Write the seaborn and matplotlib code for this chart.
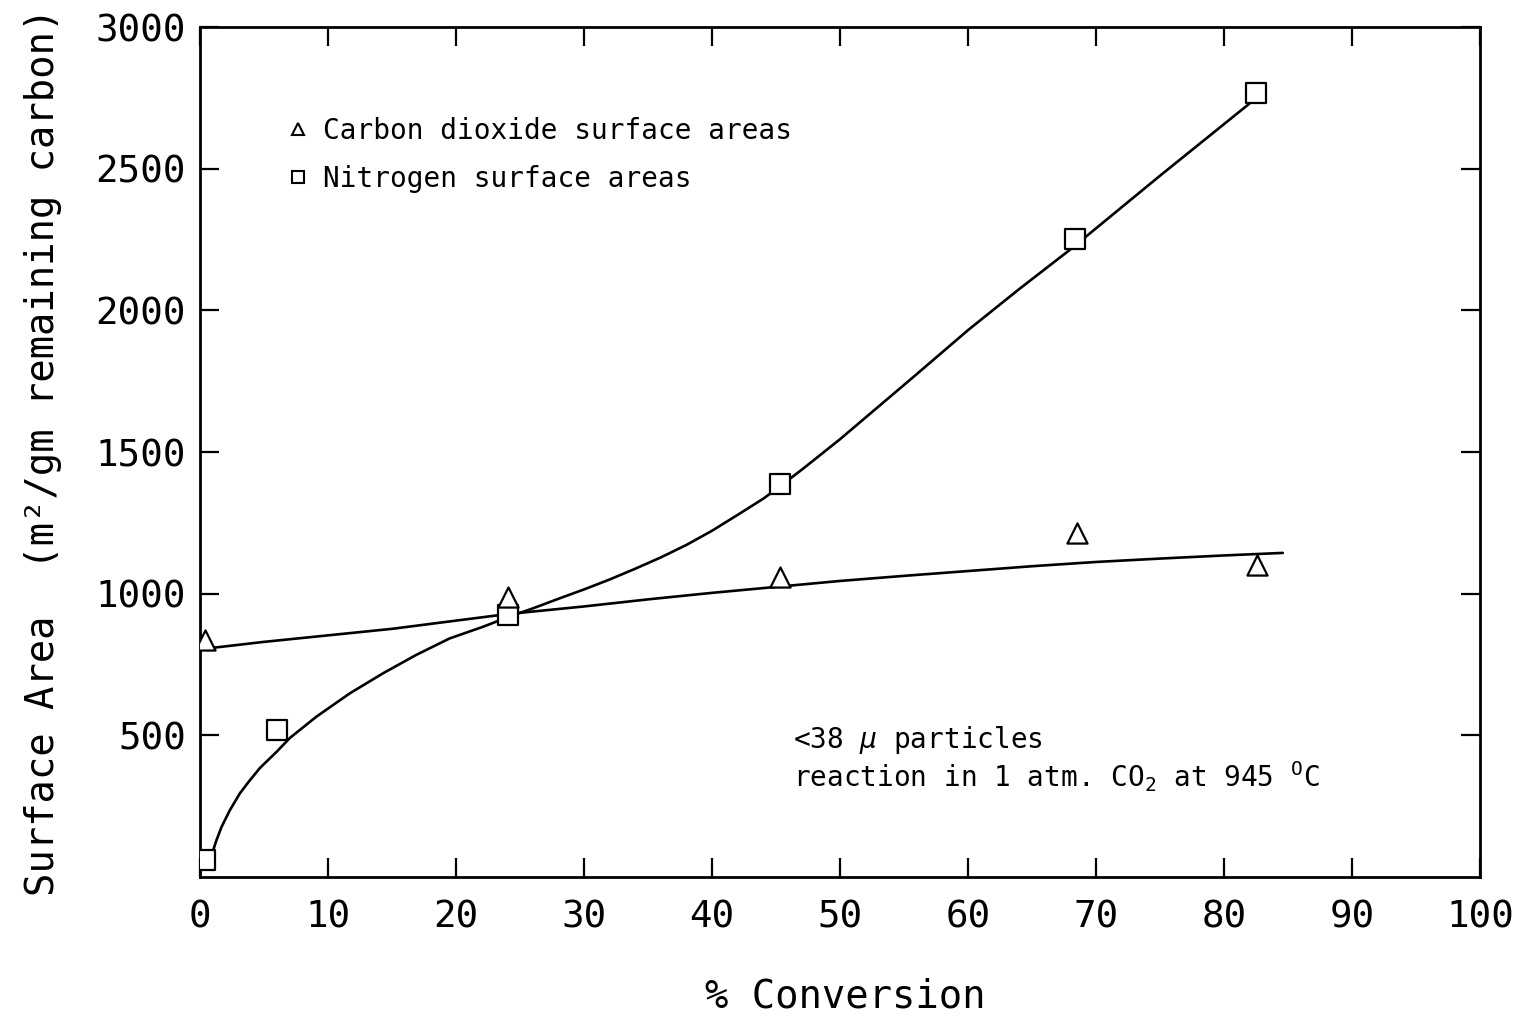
import matplotlib
matplotlib.use("Agg")
import matplotlib.pyplot as plt
from matplotlib.lines import Line2D
import seaborn as sns
import pandas as pd

# Measured surface areas (m2/gm remaining carbon) vs % conversion
n2_conv = [0.4, 6.0, 24.1, 45.3, 68.4, 82.5]
n2_area = [60, 519, 925, 1387, 2252, 2767]

co2_conv = [0.4, 24.1, 45.3, 68.5, 82.6]
co2_area = [836, 988, 1059, 1214, 1101]

# Hand-drawn trend curves through each series
n2_curve_x = [0.9, 1.04, 1.3, 1.69, 2.34, 3.13, 3.91, 4.69, 5.99, 7.03, 9.1, 11.7,
              14.3, 16.9, 19.5, 22.1, 24.1, 26, 28, 30, 32, 34, 36, 38, 40, 42, 44,
              45, 47, 50, 53, 56, 60, 64, 68, 75, 82]
n2_curve_y = [84, 95, 131, 177, 236, 296, 342, 385, 442, 491, 566, 648,
              719, 784, 842, 883, 918, 948, 982, 1015, 1050, 1088, 1128, 1172, 1222, 1278, 1335,
              1368, 1437, 1545, 1660, 1775, 1930, 2075, 2215, 2475, 2730]

co2_curve_x = [0.8, 5, 10, 15, 20, 24, 30, 35, 40, 45, 50, 55, 60, 65, 70, 75, 80, 84.6]
co2_curve_y = [808, 830, 853, 876, 905, 928, 955, 980, 1003, 1024, 1045, 1063,
               1080, 1097, 1112, 1124, 1135, 1144]

x_ticks = [0, 10, 20, 30, 40, 50, 60, 70, 80, 90, 100]
y_ticks = [500, 1000, 1500, 2000, 2500, 3000]

sns.set_theme(style="ticks")
plt.rcParams["font.family"] = ["DejaVu Sans Mono", "DejaVu Sans"]
plt.rcParams["text.color"] = "black"
plt.rcParams["axes.labelcolor"] = "black"
plt.rcParams["mathtext.fontset"] = "custom"
plt.rcParams["mathtext.rm"] = "DejaVu Sans Mono"
plt.rcParams["mathtext.it"] = "DejaVu Sans Mono:italic"
plt.rcParams["mathtext.bf"] = "DejaVu Sans Mono:bold"

fig = plt.figure(figsize=(15.32, 10.21), dpi=100)
ax = fig.add_axes([0.1305, 0.141, 0.8355, 0.8325])

n2_pts = pd.DataFrame({"conv": n2_conv, "area": n2_area})
co2_pts = pd.DataFrame({"conv": co2_conv, "area": co2_area})
n2_line = pd.DataFrame({"conv": n2_curve_x, "area": n2_curve_y})
co2_line = pd.DataFrame({"conv": co2_curve_x, "area": co2_curve_y})

sns.lineplot(data=co2_line, x="conv", y="area", ax=ax, color="black",
             linewidth=1.9, sort=False, estimator=None)
sns.lineplot(data=n2_line, x="conv", y="area", ax=ax, color="black",
             linewidth=1.9, sort=False, estimator=None)

sns.scatterplot(data=n2_pts, x="conv", y="area", ax=ax, marker="s", s=190,
                facecolor="white", edgecolor="black", linewidth=1.6, zorder=3)
sns.scatterplot(data=co2_pts, x="conv", y="area", ax=ax, marker="^", s=210,
                facecolor="white", edgecolor="black", linewidth=1.6, zorder=3)

ax.set_xlim(0, 100)
ax.set_ylim(0, 3000)
ax.set_xticks(x_ticks)
ax.set_yticks(y_ticks)
ax.tick_params(axis="both", which="major", direction="in", length=14, width=1.6,
               labelsize=27, top=True, right=True, color="black", labelcolor="black")
ax.tick_params(axis="x", pad=16)
ax.tick_params(axis="y", pad=10)
for sp in ax.spines.values():
    sp.set_visible(True)
    sp.set_linewidth(2.0)
    sp.set_color("black")

ax.set_xlabel("% Conversion", fontsize=28, color="black")
ax.set_ylabel("Surface Area  (m²/gm remaining carbon)", fontsize=28, color="black")
ax.xaxis.set_label_coords(0.504, -0.118)
ax.yaxis.set_label_coords(-0.108, 0.5)

handles = [
    Line2D([], [], linestyle="none", marker="^", markersize=9, markerfacecolor="white",
           markeredgecolor="black", markeredgewidth=1.5),
    Line2D([], [], linestyle="none", marker="s", markersize=8, markerfacecolor="white",
           markeredgecolor="black", markeredgewidth=1.5),
]
ax.legend(handles, ["Carbon dioxide surface areas", "Nitrogen surface areas"],
          loc="upper left", bbox_to_anchor=(0.068, 0.894), frameon=False,
          fontsize=20, handlelength=0.8, handletextpad=0.5, labelspacing=0.72,
          borderaxespad=0, borderpad=0, labelcolor="black")

ax.text(46.3, 455, r"<38 $\mu$ particles", fontsize=20, color="black",
        ha="left", va="baseline")
ax.text(46.3, 318, r"reaction in 1 atm. CO$_2$ at 945 $^{\mathrm{O}}$C", fontsize=20,
        color="black", ha="left", va="baseline")

fig.savefig("out.png", dpi=100, facecolor="white")
